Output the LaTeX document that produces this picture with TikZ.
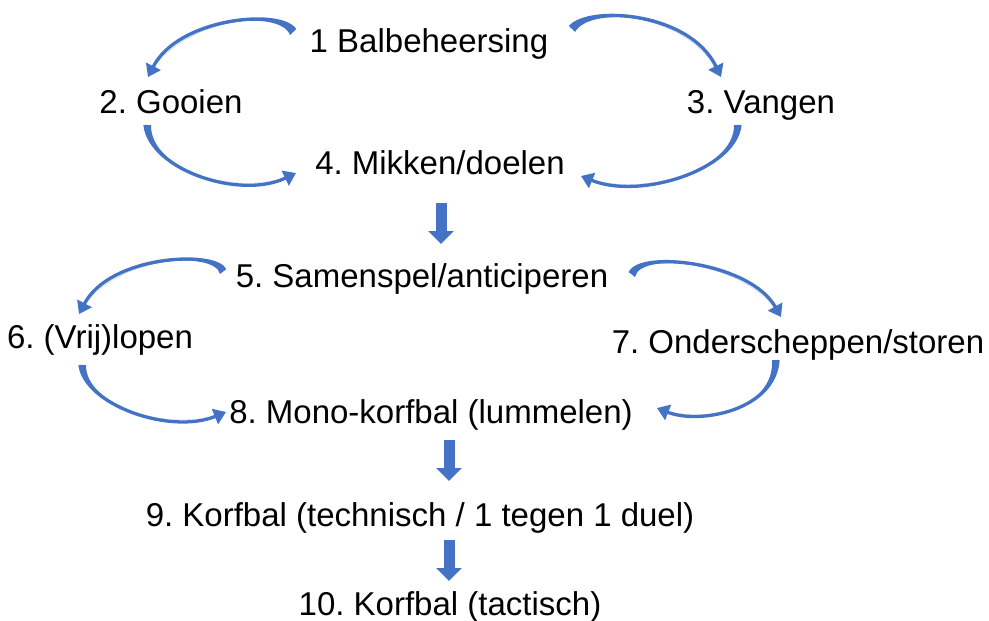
\documentclass[tikz,border=0pt]{standalone}
\usepackage{fontspec}
\setmainfont{Liberation Sans}
\usetikzlibrary{arrows.meta}
\definecolor{pptblue}{RGB}{68,114,196}
\frenchspacing
\begin{document}
\begin{tikzpicture}[x=1pt,y=-1pt,
  lbl/.style={anchor=base,inner sep=0pt,font=\fontsize{33}{40}\selectfont},
  curvearrow/.style={draw=pptblue,line width=3.3pt,-{Triangle[width=16pt,length=12pt]}},
  taper/.style={fill=pptblue},
  blockarrow/.style={draw=pptblue,line width=11pt,-{Triangle[width=25pt,length=13pt]}}]
\useasboundingbox[fill=white] (0,0) rectangle (989,621);
\node[lbl] (n1) at (429,52) {1 Balbeheersing};
\node[lbl] (n2) at (171,113) {2. Gooien};
\node[lbl] (n3) at (761,113) {3. Vangen};
\node[lbl] (n4) at (440,174) {4. Mikken/doelen};
\node[lbl] (n5) at (422,287) {5. Samenspel/anticiperen};
\node[lbl] (n6) at (100,348) {6. (Vrij)lopen};
\node[lbl] (n7) at (798,353) {7. Onderscheppen/storen};
\node[lbl] (n8) at (431,423) {8. Mono-korfbal (lummelen)};
\node[lbl] (n9) at (420,526) {9. Korfbal (technisch / 1 tegen 1 duel)};
\node[lbl] (n10) at (450,615) {10. Korfbal (tactisch)};
% curved arrows: tail, tail2, c1, c2, tip
\newcommand{\curv}[5]{%
  \fill[taper] #1 .. controls #3 and #4 .. #5 .. controls #4 and #3 .. #2 -- cycle;
  \draw[curvearrow] #1 .. controls #3 and #4 .. #5;}
\curv{(295,30)}{(290,35)}{(280,8)}{(178,18)}{(148,77)}
\curv{(145,125)}{(151,125)}{(150,170)}{(240,200)}{(296,173)}
\curv{(570,27)}{(575,32)}{(590,5)}{(690,12)}{(721,77)}
\curv{(740,125)}{(734,125)}{(735,170)}{(640,200)}{(581,176)}
\curv{(225,270)}{(220,274)}{(215,250)}{(110,255)}{(79,314)}
\curv{(80,365)}{(86,365)}{(85,405)}{(170,435)}{(226,412)}
\curv{(630,273)}{(635,277)}{(640,250)}{(750,262)}{(781,317)}
\curv{(778,360)}{(772,360)}{(775,410)}{(700,425)}{(657,408)}
% block arrows
\coordinate (a1) at (441,203); \coordinate (b1) at (441,244);
\coordinate (a2) at (449,440); \coordinate (b2) at (449,481);
\coordinate (a3) at (449,540); \coordinate (b3) at (449,581);
\draw[blockarrow] (a1) -- (b1);
\draw[blockarrow] (a2) -- (b2);
\draw[blockarrow] (a3) -- (b3);
\end{tikzpicture}
\end{document}
